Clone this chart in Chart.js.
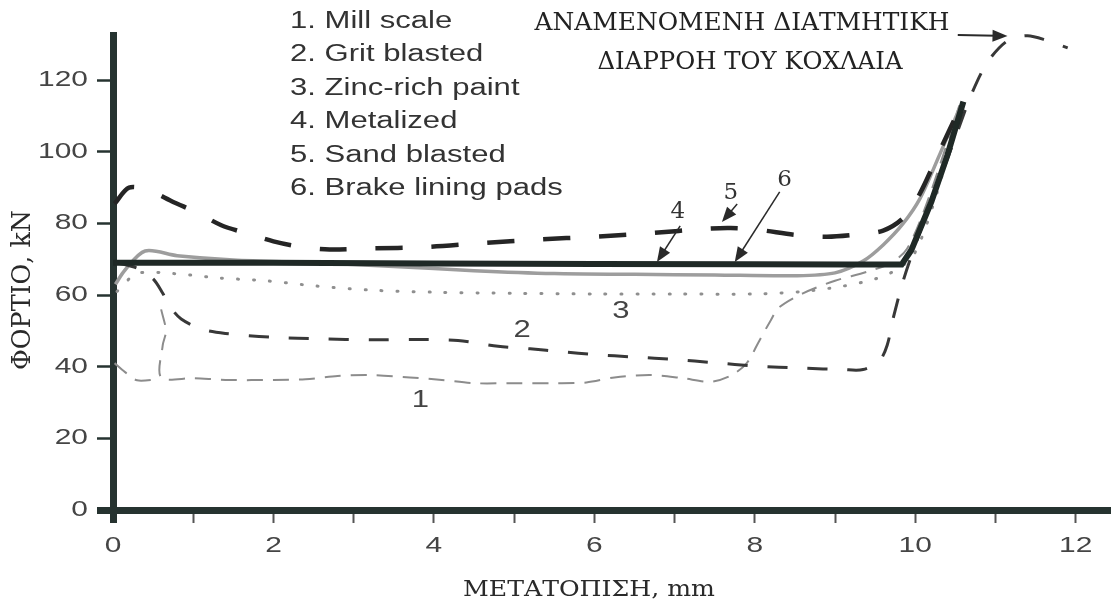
<!DOCTYPE html>
<html><head><meta charset="utf-8">
<script src="https://cdn.jsdelivr.net/npm/chart.js@4.4.1/dist/chart.umd.min.js"></script>
<style>html,body{margin:0;padding:0;background:#fff}#wrap{width:1111px;height:606px}</style>
</head><body><div id="wrap"><canvas id="c"></canvas></div>
<script>
// ΜΕΤΑΤΟΠΙΣΗ (mm) vs ΦΟΡΤΙΟ (kN)
const xTicks=[0,2,4,6,8,10,12];
const yTicks=[0,20,40,60,80,100,120];
const legendItems=['1. Mill scale','2. Grit blasted','3. Zinc-rich paint','4. Metalized','5. Sand blasted','6. Brake lining pads'];

// 1. mill scale (null = break in the line)
const millX=[0.02,0.15,0.3,0.55,0.6,0.6,0.66,0.62,0.6,1.0,1.45,2.0,2.4,2.8,3.2,3.7,4.1,4.5,5.0,5.5,5.9,6.25,6.7,7.1,7.45,7.7,7.9,8.05,8.2,8.3,8.6,9.0,9.4,9.7,9.9,10.15,10.55];
const millY=[41,38.5,36.2,36.5,null,56,50,46,37,36.8,36.3,36.3,36.5,37.4,37.7,37,36.3,35.4,35.4,35.4,35.6,37,37.7,36.8,35.8,37.5,41,47,53,56.5,60.5,64,66.5,69,73,86,113];
// 2. grit blasted
const gritX=[0.05,0.3,0.5,0.62,0.72,0.85,1.1,1.4,2.0,2.6,3.2,3.8,4.3,4.8,5.2,5.6,6.0,6.5,7.0,7.5,8.0,8.6,9.1,9.35,9.55,9.65,9.73,9.85,10.0,10.25,10.5,10.7,10.9,11.15,11.4,11.65,11.9];
const gritY=[69,67.5,64.5,60.5,56.5,53.3,50.5,49.3,48.2,47.8,47.5,47.6,47.3,45.7,45,44.2,43.4,42.7,42,41.1,40.2,39.6,39.2,39.2,41.5,46,54,64,74,89,104,116,125,131,132.4,131,129];
// 3. zinc-rich paint
const zincX=[0.05,0.3,0.75,1.3,1.9,2.5,3.2,4.0,5.0,6.0,7.0,8.0,8.6,9.1,9.5,9.8,10.0,10.25,10.55];
const zincY=[61,66,66,64.8,64,62.6,61.4,60.8,60.5,60.3,60.3,60.3,61,62.5,64.5,67.5,72,87,111];
// 4. metalized
const metalX=[0.03,0.15,0.4,0.8,1.5,2.5,3.5,4.5,5.5,6.5,7.5,8.5,9.0,9.35,9.6,9.85,10.06,10.3,10.55];
const metalY=[63,67,72.3,71,69.8,69,68,66.8,66,65.8,65.6,65.4,66.2,69.5,74,80,87,99,112];
// 5. sand blasted
const sandX=[0.02,0.2,0.45,0.75,1.05,1.35,1.7,2.0,2.35,2.7,3.2,3.9,4.6,5.3,6.0,6.7,7.4,7.7,8.05,8.5,8.9,9.3,9.6,9.85,10.05,10.3,10.55];
const sandY=[85.5,90,89.2,86,83,79.5,77,75,73.4,72.7,73,73.4,74.5,75.5,76.3,77.3,78.5,78.7,78.2,76.8,76.3,77,78,81.5,88,100,112];
// 6. brake lining pads
const padX=[0,2,4,6,8,9.2,9.83,9.95,10.2,10.4,10.6];
const padY=[69,69,68.8,68.7,68.6,68.5,68.5,72.5,86,99,114];

// curve labels (data units)
const noteText=['1','2','3'];
const noteX=[3.83,5.1,6.33];
const noteY=[30.4,50,55.3];
const serifText=['4','5','6'];
const serifX=[7.04,7.7,8.37];
const serifY=[83.2,88.5,92.1];
// arrows: from -> tip
const arrFromX=[7.07,7.78,8.31,10.53];
const arrFromY=[79.3,85.4,88.8,132.6];
const arrToX=[6.78,7.59,7.75,11.15];
const arrToY=[69.2,80.4,69.2,132.3];

const AX='#263330',TXT='#383838';
const pts=(xs,ys)=>xs.map((x,i)=>({x,y:ys[i]}));

function put(ctx,s,x,y,font,o={}){
  ctx.save();ctx.font=font;ctx.fillStyle=o.color||TXT;ctx.textAlign=o.align||'center';ctx.textBaseline='middle';
  ctx.translate(x,y);if(o.rot)ctx.rotate(o.rot);
  const m=ctx.measureText(s).width;const sx=o.w?o.w/m:(o.sx||1);
  ctx.scale(sx,o.sy||1);ctx.fillText(s,0,0);ctx.restore();
}
function arrow(ctx,x1,y1,x2,y2,lw){
  const a=Math.atan2(y2-y1,x2-x1),L=15,W=6;
  ctx.save();ctx.strokeStyle=ctx.fillStyle='#2a2a2a';ctx.lineWidth=lw||1.6;
  ctx.beginPath();ctx.moveTo(x1,y1);ctx.lineTo(x2-L*0.7*Math.cos(a),y2-L*0.7*Math.sin(a));ctx.stroke();
  ctx.translate(x2,y2);ctx.rotate(a);ctx.beginPath();ctx.moveTo(0,0);ctx.lineTo(-L,-W);ctx.lineTo(-L,W);ctx.closePath();ctx.fill();
  ctx.restore();
}

const overlay={
  id:'overlay',
  afterDraw(chart){
    const ctx=chart.ctx,xs=chart.scales.x,ys=chart.scales.y,a=chart.chartArea;
    const SANS='22px "Liberation Sans"',SX=1.36;
    xTicks.forEach(v=>put(ctx,String(v),xs.getPixelForValue(v),a.bottom+36,SANS,{sx:SX,color:'#454545'}));
    yTicks.forEach(v=>put(ctx,String(v),a.left-25,ys.getPixelForValue(v),SANS,{sx:SX,align:'right',color:'#454545'}));
    // axis titles
    put(ctx,'ΦΟΡΤΙΟ, kN',23,290,'19px "DejaVu Serif"',{rot:-Math.PI/2,w:160,sy:1.35,color:'#2a2a2a'});
    put(ctx,'ΜΕΤΑΤΟΠΙΣΗ, mm',589,590,'22px "DejaVu Serif"',{w:252,color:'#2a2a2a'});
    // legend list
    legendItems.forEach((s,i)=>put(ctx,s,290,21.5+i*33.5,'23px "Liberation Sans"',{align:'left',sx:1.35,color:'#333'}));
    // annotation
    put(ctx,'ΑΝΑΜΕΝΟΜΕΝΗ ΔΙΑΤΜΗΤΙΚΗ',742,24,'24px "DejaVu Serif"',{w:415,color:'#222'});
    put(ctx,'ΔΙΑΡΡΟΗ ΤΟΥ ΚΟΧΛΑΙΑ',750,63,'24px "DejaVu Serif"',{w:305,color:'#222'});
    noteText.forEach((s,i)=>put(ctx,s,xs.getPixelForValue(noteX[i]),ys.getPixelForValue(noteY[i]),'23px "Liberation Sans"',{sx:1.35,color:'#444'}));
    serifText.forEach((s,i)=>put(ctx,s,xs.getPixelForValue(serifX[i]),ys.getPixelForValue(serifY[i]),'23px "DejaVu Serif"',{color:'#333'}));
    arrFromX.forEach((_,i)=>arrow(ctx,xs.getPixelForValue(arrFromX[i]),ys.getPixelForValue(arrFromY[i]),xs.getPixelForValue(arrToX[i]),ys.getPixelForValue(arrToY[i]),i==3?2:1.5));
  }
};

const line=(label,data,color,width,dash,extra)=>Object.assign({label,data,borderColor:color,borderWidth:width,borderDash:dash,showLine:true,pointRadius:0,fill:false,tension:0.3,clip:false,spanGaps:false},extra||{});

new Chart(document.getElementById('c'),{
  type:'scatter',
  data:{datasets:[
    line('6. Brake lining pads',pts(padX,padY),'#1f2926',6,[],{tension:0}),
    line('5. Sand blasted',pts(sandX,sandY),'#252525',4.5,[27,29]),
    line('2. Grit blasted',pts(gritX,gritY),'#383838',3,[20,20]),
    line('4. Metalized',pts(metalX,metalY),'#9d9d9d',3.5,[]),
    line('3. Zinc-rich paint',pts(zincX,zincY),'#8f8f8f',3,[1,15],{borderCapStyle:'round'}),
    line('1. Mill scale',pts(millX,millY),'#8c8c8c',2,[16,10])
  ]},
  options:{
    responsive:true,maintainAspectRatio:false,animation:false,
    layout:{padding:{top:35,right:0,left:0,bottom:0}},
    plugins:{legend:{display:false},tooltip:{enabled:false}},
    scales:{
      x:{type:'linear',min:0,max:12.44,
        afterFit:s=>{s.height=96;},
        border:{display:true,width:7,color:AX},
        grid:{drawOnChartArea:false,drawTicks:true,tickLength:13,tickWidth:c=>c.tick&&c.tick.value===0?7:2,tickColor:c=>c.tick&&c.tick.value===0?AX:'#555'},
        ticks:{stepSize:1,includeBounds:false,callback:()=>'',padding:0,font:{size:1}}},
      y:{type:'linear',min:0,max:132.6,
        afterFit:s=>{s.width=113;},
        border:{display:true,width:7,color:AX},
        grid:{drawOnChartArea:false,drawTicks:true,tickLength:16,tickWidth:c=>c.tick&&c.tick.value===0?7:2.5,tickColor:AX},
        ticks:{stepSize:20,includeBounds:false,callback:()=>'',padding:0,font:{size:1}}}
    }
  },
  plugins:[overlay]
});
</script></body></html>
